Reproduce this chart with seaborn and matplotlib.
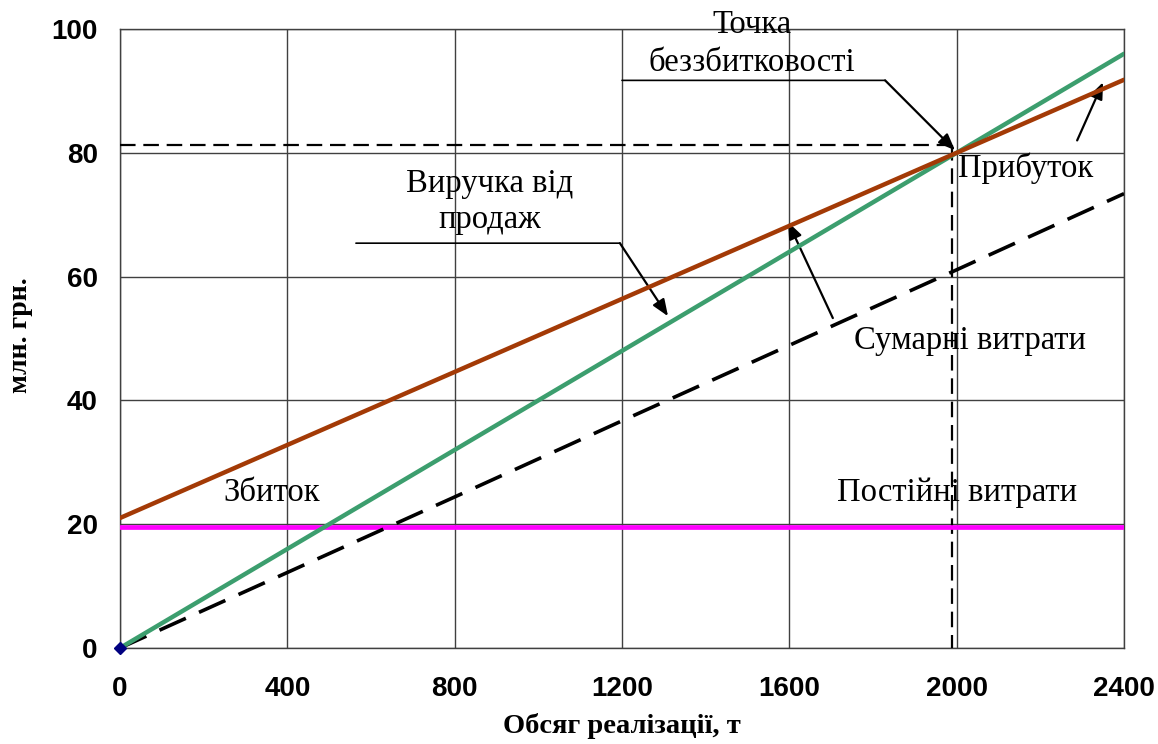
import matplotlib
matplotlib.use("Agg")
import matplotlib.pyplot as plt
import seaborn as sns
import pandas as pd

# ---- data ----
volume = [0, 400, 800, 1200, 1600, 2000, 2400]
revenue_green = [0, 16, 32, 48, 64, 80, 96]
brown_line = [21, 32.8, 44.6, 56.4, 68.2, 80, 91.8]
total_dashed = [0, 12.2, 24.4, 36.7, 48.9, 61.1, 73.4]
fixed_costs = [19.5] * len(volume)
breakeven_x = 1990
breakeven_y = 81.2

x_ticks = [0, 400, 800, 1200, 1600, 2000, 2400]
y_ticks = [0, 20, 40, 60, 80, 100]
x_label = "Обсяг реалізації, т"
y_label = "млн. грн."

df = pd.DataFrame({"x": volume, "green": revenue_green, "brown": brown_line,
                   "total": total_dashed, "fixed": fixed_costs})

sns.set_style("white")
plt.rcParams["text.color"] = "black"
plt.rcParams["axes.labelcolor"] = "black"
SERIF = ["Liberation Serif", "DejaVu Serif"]
SANS = ["Liberation Sans", "DejaVu Sans"]

fig = plt.figure(figsize=(11.58, 7.44), dpi=100)
ax = fig.add_axes([120 / 1158, 1 - 648 / 744, 1004 / 1158, 619 / 744])

grid_c = "#404040"
ax.set_xlim(0, 2400)
ax.set_ylim(0, 100)
ax.set_xticks(x_ticks)
ax.set_yticks(y_ticks)
ax.grid(True, color=grid_c, lw=1.0)
ax.set_axisbelow(True)
for s in ax.spines.values():
    s.set_color(grid_c)
    s.set_linewidth(1.0)

# breakeven guide lines
ax.plot([0, breakeven_x], [breakeven_y, breakeven_y], color="black", lw=1.6,
        dashes=(7, 3.5), zorder=3)
ax.plot([breakeven_x, breakeven_x], [breakeven_y, 0], color="black", lw=1.6,
        dashes=(7, 3.5), zorder=3)

sns.lineplot(data=df, x="x", y="fixed", ax=ax, color="#ff00ff", lw=3.4, zorder=4)
sns.lineplot(data=df, x="x", y="total", ax=ax, color="black", lw=2.6, zorder=4,
             dashes=False).lines[-1].set_dashes((8, 4))
sns.lineplot(data=df, x="x", y="green", ax=ax, color="#3c9e6e", lw=3.2, zorder=5)
sns.lineplot(data=df, x="x", y="brown", ax=ax, color="#a33a06", lw=3.2, zorder=6)
ax.plot([volume[0]], [revenue_green[0]], marker="D", color="#000080", ms=6,
        zorder=7, clip_on=False)

ax.tick_params(axis="both", direction="out", length=5, width=1, color=grid_c,
               pad=11, labelsize=20, labelcolor="black")
ax.tick_params(axis="x", pad=15)
for lab in ax.get_xticklabels() + ax.get_yticklabels():
    lab.set_fontfamily(SANS)
    lab.set_fontweight("bold")

ax.set_xlabel(x_label, fontsize=20.5, fontweight="bold", family=SERIF, labelpad=8,
              color="black")
ax.set_ylabel(y_label, fontsize=20, fontweight="bold", family=SERIF, color="black")
ax.yaxis.set_label_coords(-0.087, 0.505)

# ---- annotations ----
tfs = 23.5
arrow = dict(arrowstyle="-|>,head_length=1.0,head_width=0.4", color="black",
             lw=1.6, shrinkA=0, shrinkB=0)
plain = dict(arrowstyle="-", color="black", lw=1.2, shrinkA=0, shrinkB=0)

ax.text(1511, 97.6, "Точка\nбеззбитковості", ha="center", va="center",
        fontsize=tfs, family=SERIF, multialignment="center", zorder=8,
        clip_on=False, linespacing=1.35, color="black")
ax.annotate("", xy=(1829, 91.7), xytext=(1200, 91.7), arrowprops=plain)
ax.annotate("", xy=(1996, 80.4), xytext=(1829, 91.7), arrowprops=arrow)

ax.text(884, 72.1, "Виручка від\nпродаж", ha="center", va="center",
        fontsize=tfs, family=SERIF, multialignment="center", zorder=8,
        linespacing=1.2, color="black")
ax.annotate("", xy=(1195, 65.4), xytext=(564, 65.4), arrowprops=plain)
ax.annotate("", xy=(1310, 53.6), xytext=(1195, 65.4), arrowprops=arrow)

ax.text(2032, 49.7, "Сумарні витрати", ha="center", va="center",
        fontsize=tfs, family=SERIF, zorder=8, clip_on=False, color="black")
ax.annotate("", xy=(1597, 68.8), xytext=(1704, 53.3), arrowprops=arrow)

ax.text(2003, 77.5, "Прибуток", ha="left", va="center",
        fontsize=tfs, family=SERIF, zorder=8, color="black")
ax.annotate("", xy=(2350, 91.4), xytext=(2288, 82.0), arrowprops=arrow)

ax.text(363, 25.1, "Збиток", ha="center", va="center",
        fontsize=tfs, family=SERIF, zorder=8, color="black")
ax.text(2000, 25.1, "Постійні витрати", ha="center", va="center",
        fontsize=tfs, family=SERIF, zorder=8, color="black")

fig.savefig("out.png", dpi=100)
